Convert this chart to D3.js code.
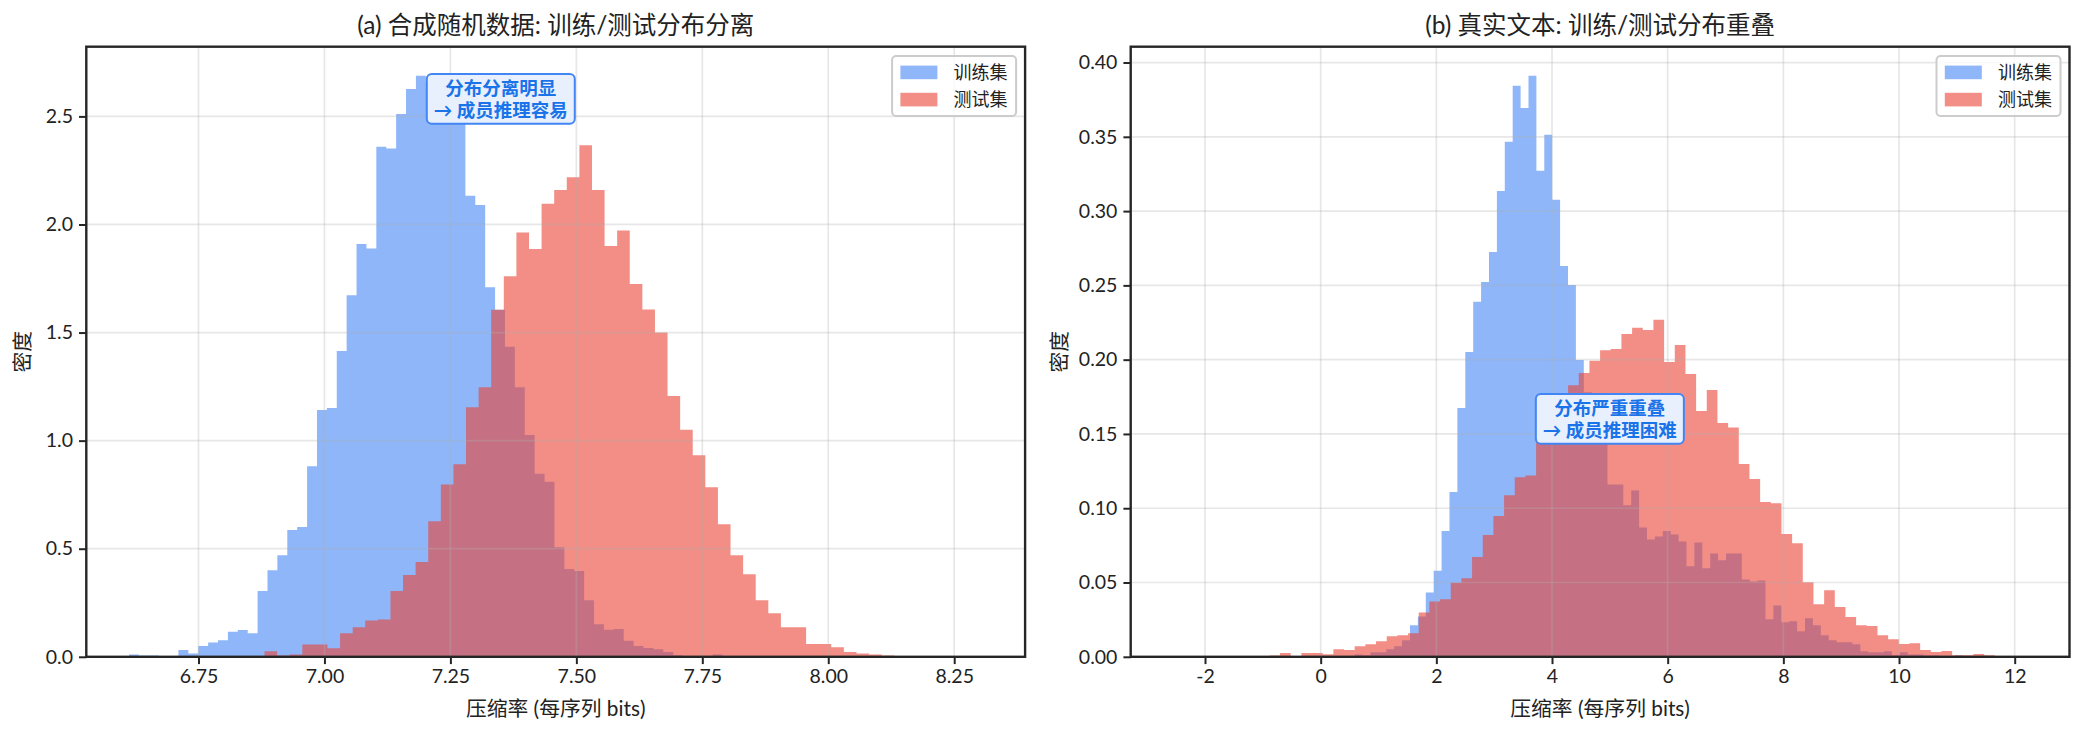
<!DOCTYPE html>
<html lang="zh">
<head>
<meta charset="utf-8">
<script src="https://cdn.jsdelivr.net/npm/d3@7"></script>
<style>
  body { margin: 0; background: #fff; }
  svg text { font-family: "Lato", "Noto Sans CJK SC", sans-serif; }
</style>
</head>
<body>
<svg id="chart" width="2085" height="735"></svg>
<script>

// ---- data: histogram densities ----
// (a) synthetic random data
const synthTrainStart = 6.612, synthTrainWidth = 0.01964;
const synthTrain = [0.011, 0.0055, 0.0055, 0, 0, 0.031, 0.015, 0.050, 0.066, 0.077,
  0.116, 0.124, 0.109, 0.304, 0.400, 0.470, 0.587, 0.600, 0.882, 1.142,
  1.151, 1.415, 1.673, 1.910, 1.889, 2.360, 2.352, 2.511, 2.627, 2.688,
  2.66, 2.60, 2.53, 2.47, 2.133, 2.090, 1.710, 1.605, 1.434, 1.247,
  1.026, 0.847, 0.810, 0.507, 0.406, 0.397, 0.262, 0.151, 0.125, 0.129,
  0.074, 0.050, 0.041, 0.035, 0.022, 0.007, 0.004, 0, 0.004, 0.011];

const synthTestStart = 6.881, synthTestWidth = 0.025;
const synthTest = [0.026, 0.0055, 0.011, 0.057, 0.057, 0.039, 0.109, 0.137, 0.168, 0.172,
  0.304, 0.378, 0.439, 0.627, 0.797, 0.891, 1.155, 1.247, 1.605, 1.760,
  1.963, 1.887, 2.096, 2.159, 2.218, 2.367, 2.159, 1.900, 1.972, 1.725,
  1.607, 1.500, 1.207, 1.050, 0.932, 0.784, 0.613, 0.470, 0.382, 0.262,
  0.201, 0.137, 0.137, 0.059, 0.059, 0.044, 0.022, 0.015, 0.011, 0.0055,
  0.004, 0, 0, 0.004, 0, 0, 0.004];

// (b) real text
const realTrainStart = 0.588, realTrainWidth = 0.1366;
const realTrain = [0.0016, 0.0011, 0.0031, 0.0031, 0.0051, 0.0071, 0.0112, 0.0212, 0.0272, 0.0433,
  0.058, 0.0846, 0.111, 0.1675, 0.2051, 0.2389, 0.2523, 0.2725, 0.3136, 0.3466,
  0.3844, 0.3694, 0.3911, 0.3272, 0.3514, 0.3077, 0.2631, 0.2502, 0.1997, 0.178,
  0.160, 0.148, 0.116, 0.116, 0.102, 0.112, 0.087, 0.079, 0.081, 0.0846,
  0.0824, 0.0776, 0.0609, 0.077, 0.0596, 0.0695, 0.065, 0.0695, 0.0695, 0.052,
  0.0507, 0.0513, 0.0252, 0.0346, 0.0232, 0.0239, 0.0172, 0.0259, 0.0212, 0.0145,
  0.0112, 0.0098, 0.0098, 0.0085, 0.0038, 0.0031, 0.0031, 0.0038, 0.0011, 0.0031,
  0.0016, 0.0016, 0.0009, 0.0009, 0, 0, 0.0009, 0, 0, 0.0007];

const realTestStart = -2.547, realTestWidth = 0.18446;
const realTest = [0.0005, 0, 0, 0, 0, 0, 0, 0, 0, 0.0009,
  0.0025, 0, 0.0025, 0.0025, 0.0018, 0.0051, 0.0045, 0.0071, 0.0085, 0.0105,
  0.0138, 0.0145, 0.0158, 0.0299, 0.0373, 0.0387, 0.0499, 0.0529, 0.0671, 0.0819,
  0.0948, 0.1087, 0.1208, 0.1221, 0.150, 0.163, 0.172, 0.1828, 0.191, 0.1992,
  0.2064, 0.2072, 0.2172, 0.2215, 0.2199, 0.2268, 0.1984, 0.2099, 0.1903, 0.1654,
  0.1796, 0.1573, 0.1544, 0.1297, 0.1197, 0.1042, 0.1034, 0.0827, 0.0765, 0.0502,
  0.0354, 0.0448, 0.0336, 0.0268, 0.0212, 0.0207, 0.0145, 0.0118, 0.0086, 0.0091,
  0.0046, 0.0032, 0.0039, 0.0011, 0.001, 0.0019, 0.0011, 0.0002, 0, 0.0002];

const seriesNames = ["训练集", "测试集"];
const seriesColors = ["#4285F4", "#EA4335"];

const titleA = "(a) 合成随机数据: 训练/测试分布分离";
const titleB = "(b) 真实文本: 训练/测试分布重叠";
const xLabel = "压缩率 (每序列 bits)";
const yLabel = "密度";

const xTicksA = [6.75, 7.00, 7.25, 7.50, 7.75, 8.00, 8.25];
const yTicksA = [0.0, 0.5, 1.0, 1.5, 2.0, 2.5];
const xTicksB = [-2, 0, 2, 4, 6, 8, 10, 12];
const yTicksB = [0.00, 0.05, 0.10, 0.15, 0.20, 0.25, 0.30, 0.35, 0.40];

const noteA = ["分布分离明显", "→ 成员推理容易"];
const noteB = ["分布严重重叠", "→ 成员推理困难"];

// ---- drawing ----
const svg = d3.select("#chart");
svg.append("rect").attr("width", 2085).attr("height", 735).attr("fill", "#fff");

const plotTop = 46.7, plotBottom = 656.8;
const ink = "#222";

function drawPanel(opt) {
  const hists = [
    {start: opt.trainStart, w: opt.trainWidth, vals: opt.train, color: seriesColors[0]},
    {start: opt.testStart, w: opt.testWidth, vals: opt.test, color: seriesColors[1]}
  ];
  const lo = d3.min(hists, h => h.start);
  const hi = d3.max(hists, h => h.start + h.w * h.vals.length);
  const pad = (hi - lo) * 0.05;
  const yMax = d3.max(hists, h => d3.max(h.vals)) * 1.05;

  const x = d3.scaleLinear().domain([lo - pad, hi + pad]).range([opt.left, opt.right]);
  const y = d3.scaleLinear().domain([0, yMax]).range([plotBottom, plotTop]);

  const g = svg.append("g");

  // bars as one stepped area per series
  hists.forEach(h => {
    const pts = h.vals.map((v, i) => [h.start + i * h.w, v]);
    pts.push([h.start + h.vals.length * h.w, h.vals[h.vals.length - 1]]);
    const area = d3.area()
      .x(d => x(d[0]))
      .y0(y(0))
      .y1(d => y(d[1]))
      .curve(d3.curveStepAfter);
    g.append("path")
      .attr("d", area(pts))
      .attr("fill", h.color)
      .attr("fill-opacity", 0.6);
  });

  // grid
  const grid = g.append("g").attr("stroke", "#b0b0b0").attr("stroke-opacity", 0.3).attr("stroke-width", 1.7);
  opt.xTicks.forEach(t => grid.append("line").attr("x1", x(t)).attr("x2", x(t)).attr("y1", plotTop).attr("y2", plotBottom));
  opt.yTicks.forEach(t => grid.append("line").attr("x1", opt.left).attr("x2", opt.right).attr("y1", y(t)).attr("y2", y(t)));

  // axes
  const xAxis = g.append("g").attr("transform", `translate(0,${plotBottom})`)
    .call(d3.axisBottom(x).tickValues(opt.xTicks).tickFormat(opt.xFmt).tickSizeInner(7.3).tickSizeOuter(0).tickPadding(5));
  const yAxis = g.append("g").attr("transform", `translate(${opt.left},0)`)
    .call(d3.axisLeft(y).tickValues(opt.yTicks).tickFormat(opt.yFmt).tickSizeInner(7.3).tickSizeOuter(0).tickPadding(6));
  [xAxis, yAxis].forEach(a => {
    a.select(".domain").remove();
    a.selectAll(".tick line").attr("stroke", "#262626").attr("stroke-width", 2);
    a.selectAll(".tick text").style("font-size", "19.5px").style("fill", ink);
  });

  // frame
  g.append("rect")
    .attr("x", opt.left).attr("y", plotTop)
    .attr("width", opt.right - opt.left).attr("height", plotBottom - plotTop)
    .attr("fill", "none").attr("stroke", "#262626").attr("stroke-width", 2.4);

  // title & labels
  const cx = (opt.left + opt.right) / 2;
  g.append("text").attr("x", cx).attr("y", 34).attr("text-anchor", "middle")
    .style("font-size", "24.5px").style("fill", ink).text(opt.title);
  g.append("text").attr("x", cx).attr("y", 716).attr("text-anchor", "middle")
    .style("font-size", "20.8px").style("fill", ink).text(xLabel);
  g.append("text")
    .attr("transform", `translate(${opt.left - opt.yLabelOff},${(plotTop + plotBottom) / 2}) rotate(-90)`)
    .attr("text-anchor", "middle")
    .style("font-size", "20.8px").style("fill", ink).text(yLabel);

  // annotation box
  const ax = x(opt.noteAt[0]), ay = y(opt.noteAt[1]);
  const note = g.append("g");
  const box = note.append("rect");
  const nt = note.append("text").attr("text-anchor", "middle")
    .style("font-size", "18.5px").style("font-weight", "bold").style("fill", "#1A73E8");
  opt.note.forEach((line, i) => {
    nt.append("tspan").attr("x", ax).attr("y", ay - 4 + i * 21.6).text(line);
  });
  const bb = nt.node().getBBox();
  box.attr("x", bb.x - 7).attr("y", bb.y - 3).attr("width", bb.width + 14).attr("height", bb.height + 6)
    .attr("rx", 5).attr("fill", "#E8F0FE").attr("stroke", "#4285F4").attr("stroke-width", 2);

  // legend
  const lw = 124, lh = 60;
  const lx = opt.right - 9 - lw, ly = plotTop + 9.3;
  const leg = g.append("g");
  leg.append("rect").attr("x", lx).attr("y", ly).attr("width", lw).attr("height", lh).attr("rx", 4)
    .attr("fill", "#fff").attr("fill-opacity", 0.8).attr("stroke", "#cccccc").attr("stroke-width", 2);
  seriesNames.forEach((name, i) => {
    const ry = ly + 16.4 + i * 27.2;
    leg.append("rect").attr("x", lx + 8.3).attr("y", ry - 6.8).attr("width", 37).attr("height", 13.6)
      .attr("fill", seriesColors[i]).attr("fill-opacity", 0.6);
    leg.append("text").attr("x", lx + 61.5).attr("y", ry).attr("dy", "0.36em")
      .style("font-size", "18px").style("fill", ink).text(name);
  });
}

drawPanel({
  left: 86.3, right: 1025.1, yLabelOff: 56,
  trainStart: synthTrainStart, trainWidth: synthTrainWidth, train: synthTrain,
  testStart: synthTestStart, testWidth: synthTestWidth, test: synthTest,
  xTicks: xTicksA, yTicks: yTicksA,
  xFmt: d3.format(".2f"), yFmt: d3.format(".1f"),
  title: titleA, note: noteA, noteAt: [7.35, 2.58]
});

drawPanel({
  left: 1130.7, right: 2069.5, yLabelOff: 64,
  trainStart: realTrainStart, trainWidth: realTrainWidth, train: realTrain,
  testStart: realTestStart, testWidth: realTestWidth, test: realTest,
  xTicks: xTicksB, yTicks: yTicksB,
  xFmt: d => String(d), yFmt: d3.format(".2f"),
  title: titleB, note: noteB, noteAt: [5.0, 0.16]
});

</script>
</body>
</html>
